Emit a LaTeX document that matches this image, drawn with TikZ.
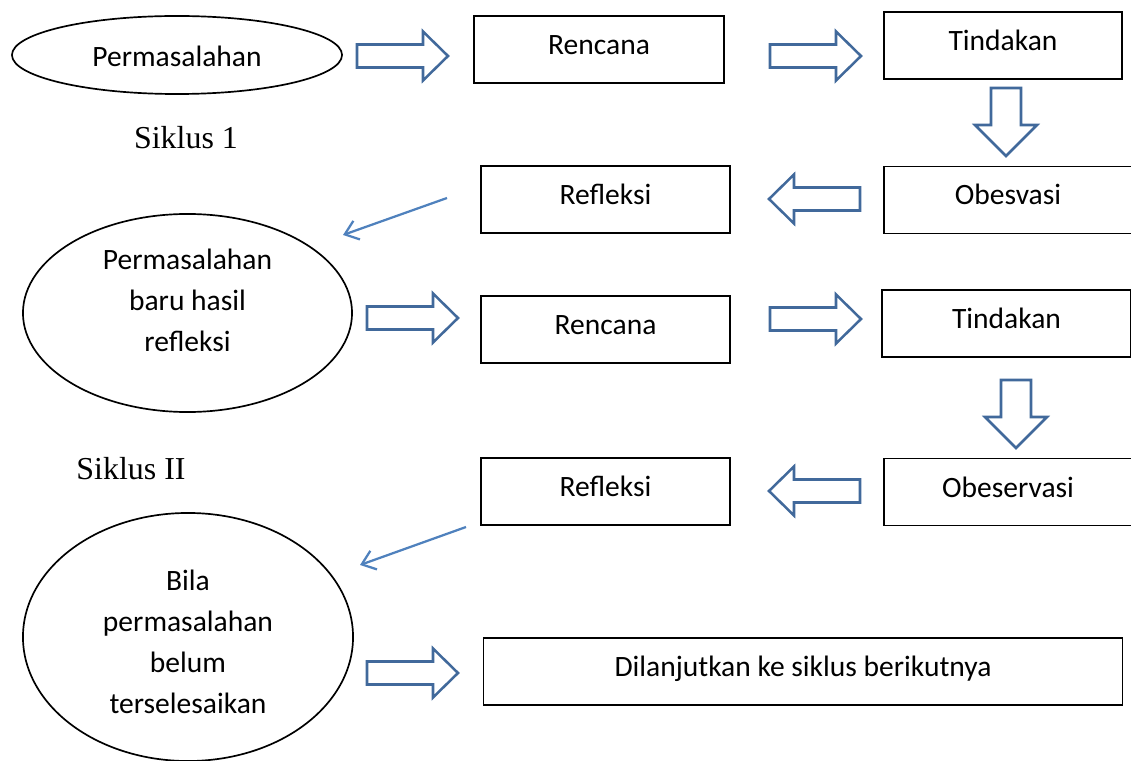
\documentclass[tikz,border=0pt]{standalone}
\usepackage{fontspec}
\setmainfont{Carlito}
\newfontfamily\sikfont{Liberation Serif}
\usetikzlibrary{shapes.geometric,arrows.meta,positioning}
\definecolor{arrowblue}{RGB}{65,105,155}
\definecolor{lineblue}{RGB}{79,129,189}
\tikzset{
 box/.style={draw, line width=0.8pt, minimum height=1.675cm, inner sep=0pt,
   text height=0.5cm, text depth=0.25cm, font=\fontsize{21}{29}\selectfont},
 oval/.style={draw, ellipse, line width=1.2pt, inner sep=0pt},
 ovaltext/.style={align=center, font=\fontsize{21}{29.2}\selectfont},
 siklus/.style={font=\sikfont\fontsize{22.7}{27}\selectfont},
 fat/.style={draw=arrowblue, line width=1.8pt, fill=white, line join=miter},
 thinarrow/.style={draw=lineblue, line width=1.6pt, -{Straight Barb[length=9pt,width=14pt,line width=1.6pt]}},
 pics/rarrow/.style={code={
   \draw[fat] (-45,-11.5) -- (21,-11.5) -- (21,-24.5) -- (46,0) -- (21,24.5) -- (21,11.5) -- (-45,11.5) -- cycle;}},
 pics/darrow/.style={code={
   \draw[fat] (-15,-34) -- (15,-34) -- (15,3) -- (31,3) -- (0,34) -- (-31,3) -- (-15,3) -- cycle;}}
}
\begin{document}
\begin{tikzpicture}[x=0.025cm,y=-0.025cm]
 \useasboundingbox (0,0) rectangle (1131,761);
 % siklus 1
 \node[oval, minimum width=8.25cm, minimum height=1.95cm] (masalah) at (177,55) {};
 \node[ovaltext] (masalahtxt) at (177,56) {Permasalahan};
 \pic at (402,56) {rarrow};
 \node[box, minimum width=6.25cm] (rencana1) at (599,49.5) {Rencana};
 \pic at (815,56) {rarrow};
 \node[box, minimum width=5.95cm] (tindakan1) at (1003,45.5) {Tindakan};
 \pic at (1006,122) {darrow};
 \node[box, minimum width=6.2cm] (obsv1) at (1008,200) {Obesvasi};
 \pic[rotate=180] at (815,199) {rarrow};
 \node[box, minimum width=6.225cm] (refleksi1) at (605.5,199.5) {Refleksi};
 \node[siklus] (siklus1) at (186,138) {Siklus 1};
 %
 \coordinate (ref1from) at (447,198);
 \coordinate (ref1to) at (343,235);
 \draw[thinarrow] (ref1from) -- (ref1to);
 % siklus 2
 \node[oval, minimum width=8.225cm, minimum height=4.95cm] (masalahbaru) at (187.5,313) {};
 \node[ovaltext] (masalahbarutxt) at (187.5,300) {Permasalahan\\baru hasil\\refleksi};
 \pic at (412,318) {rarrow};
 \node[box, minimum width=6.225cm] (rencana2) at (605.5,329.5) {Rencana};
 \pic at (815,319) {rarrow};
 \node[box, minimum width=6.225cm] (tindakan2) at (1006.5,323.5) {Tindakan};
 \pic at (1016,414) {darrow};
 \node[box, minimum width=6.2cm] (obsv2) at (1008,492) {Obeservasi};
 \pic[rotate=180] at (815,491) {rarrow};
 \node[box, minimum width=6.225cm] (refleksi2) at (605.5,491.5) {Refleksi};
 \node[siklus] (siklus2) at (131,469) {Siklus II};
 %
 \coordinate (ref2from) at (466,527);
 \coordinate (ref2to) at (360,565);
 \draw[thinarrow] (ref2from) -- (ref2to);
 % lanjut
 \node[oval, minimum width=8.25cm, minimum height=6.2cm] (belum) at (188,637) {};
 \node[ovaltext] (belumtxt) at (188,642) {Bila\\permasalahan\\belum\\terselesaikan};
 \pic at (412,673) {rarrow};
 \node[box, minimum width=15.95cm] (lanjut) at (803,671.5) {Dilanjutkan ke siklus berikutnya};
\end{tikzpicture}
\end{document}
